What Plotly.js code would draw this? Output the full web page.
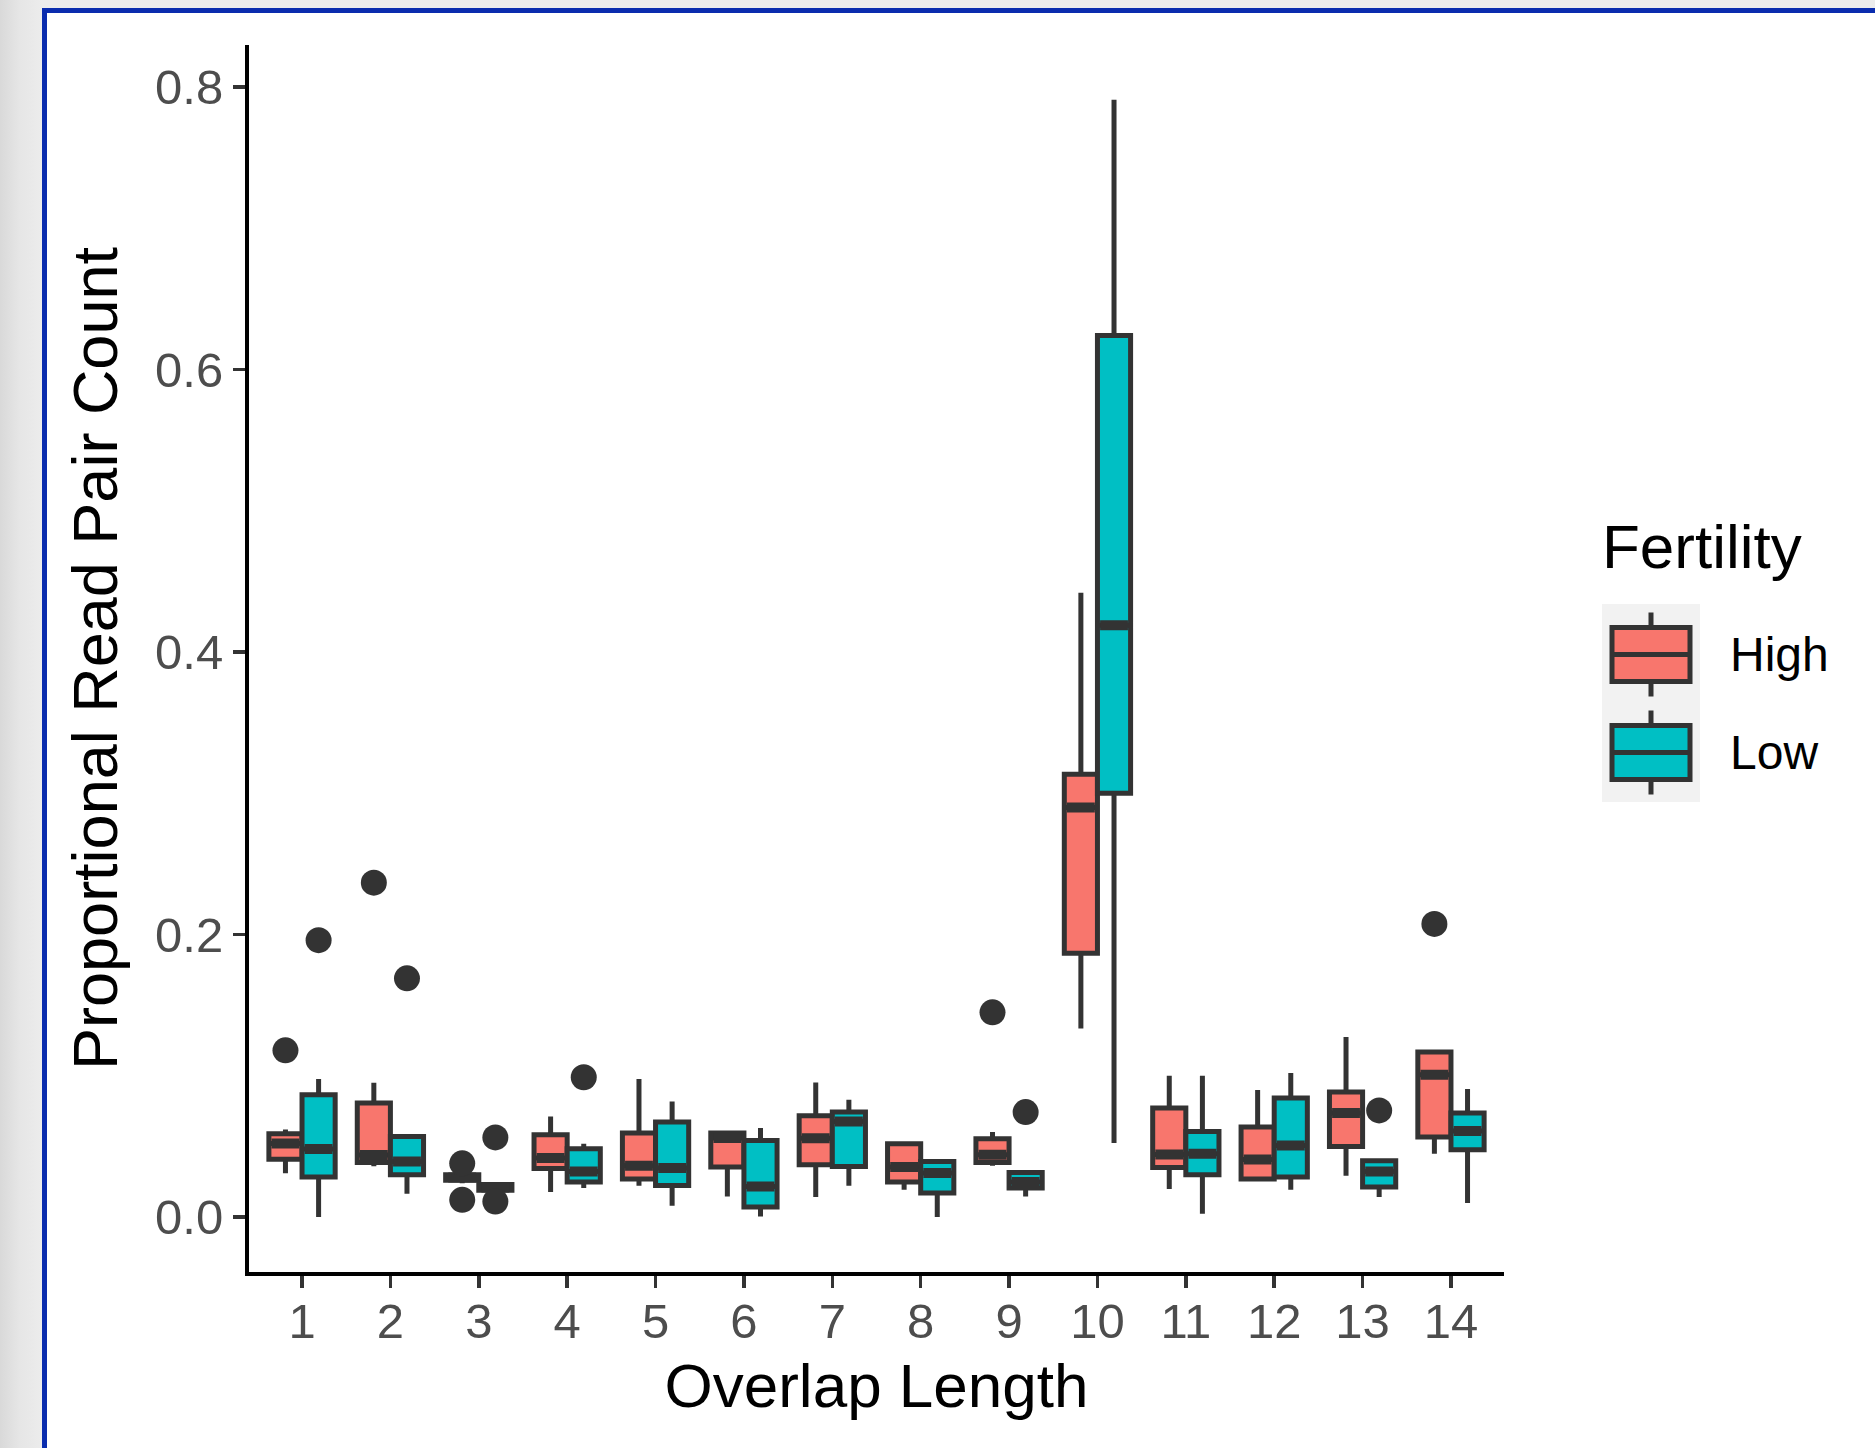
<!DOCTYPE html>
<html><head><meta charset="utf-8">
<script src="https://cdn.plot.ly/plotly-3.0.1.min.js"></script>
<style>
html,body{margin:0;padding:0;width:1875px;height:1448px;overflow:hidden;}
body{background:linear-gradient(to right,#d9d9d9 0px,#e6e6e6 20px,#ececec 42px,#ececec 100%);}
#frame{position:absolute;left:42px;top:8px;right:0;bottom:0;background:#ffffff;border-top:5px solid #0a2cae;border-left:5px solid #0a2cae;}
#chart{position:absolute;left:0;top:0;width:1875px;height:1448px;}
</style></head><body><div id="frame"></div><div id="chart"></div>
<script>
// ---------------- data ----------------
const groups = [1,2,3,4,5,6,7,8,9,10,11,12,13,14];
const seriesNames = ["High","Low"];

const highLower  = [0.031,0.036,0.024,0.0177,0.0222,0.0146,0.0142,0.0193,0.0363,0.1335,0.0198,0.0269,0.0292,0.0448];
const highQ1     = [0.041,0.0387,0.026,0.0344,0.0269,0.0354,0.037,0.0248,0.0387,0.1867,0.0351,0.0269,0.050,0.0566];
const highMedian = [0.052,0.044,0.028,0.0418,0.0363,0.056,0.0557,0.0354,0.0441,0.290,0.0443,0.0408,0.0736,0.1007];
const highQ3     = [0.059,0.0807,0.030,0.0583,0.0595,0.0595,0.0717,0.0519,0.0554,0.3135,0.0772,0.0637,0.0885,0.1168];
const highUpper  = [0.062,0.095,0.032,0.0712,0.0977,0.0595,0.0953,0.053,0.0602,0.442,0.100,0.090,0.1274,0.1168];

const lowLower  = [0.0,0.0165,0.018,0.0205,0.008,0.0004,0.0222,0.0,0.0146,0.0524,0.0023,0.0193,0.0142,0.0099];
const lowQ1     = [0.0283,0.030,0.019,0.0248,0.0224,0.0071,0.0358,0.017,0.0205,0.300,0.030,0.0283,0.0212,0.0476];
const lowMedian = [0.0481,0.0394,0.021,0.0323,0.0347,0.0217,0.0677,0.0311,0.0248,0.419,0.0448,0.0507,0.0323,0.0609];
const lowQ3     = [0.0866,0.057,0.023,0.0483,0.0672,0.0542,0.0743,0.0393,0.0316,0.624,0.0606,0.0842,0.0399,0.0736];
const lowUpper  = [0.0977,0.057,0.024,0.0519,0.0818,0.063,0.083,0.040,0.033,0.791,0.100,0.102,0.040,0.0906];

const highOutGroup = [1,2,3,3,9,14];
const highOutValue = [0.118,0.2367,0.038,0.0122,0.1449,0.2075];
const lowOutGroup  = [1,2,3,3,4,9,13];
const lowOutValue  = [0.196,0.169,0.0564,0.011,0.099,0.0743,0.0755];

const yTickVals = [0,0.2,0.4,0.6,0.8];
const yTickText = ["0.0","0.2","0.4","0.6","0.8"];
const xTickText = groups.map(String);

// ---------------- style ----------------
const COLORS = {High:"#F8766D", Low:"#00BFC4"};
const INK = "#333333";
const FONT = "Liberation Sans, Arial, Helvetica, sans-serif";
const DODGE = 0.75;            // total width of a group
const BOXW = DODGE/2;
const OFFS = {High:-DODGE/4, Low:DODGE/4};
const LW = 5, MEDLW = 10;

const stats = {
  High:{lf:highLower,q1:highQ1,med:highMedian,q3:highQ3,uf:highUpper,og:highOutGroup,ov:highOutValue},
  Low:{lf:lowLower,q1:lowQ1,med:lowMedian,q3:lowQ3,uf:lowUpper,og:lowOutGroup,ov:lowOutValue}
};

const traces = [];
seriesNames.forEach(name=>{
  const s = stats[name];
  const xs = groups.map(g=>g+OFFS[name]);
  traces.push({
    type:"box", name:name, orientation:"v", x:xs,
    q1:s.q1, median:s.med, q3:s.q3, lowerfence:s.lf, upperfence:s.uf,
    width:BOXW, fillcolor:COLORS[name], line:{color:INK,width:LW},
    whiskerwidth:0, boxpoints:false, showlegend:false, hoverinfo:"y"
  });
  // thicker median bar (ggplot fatten)
  traces.push({
    type:"box", name:name+" median", orientation:"v", x:xs,
    q1:s.med, median:s.med, q3:s.med, lowerfence:s.med, upperfence:s.med,
    width:BOXW-0.06, fillcolor:"rgba(0,0,0,0)", line:{color:INK,width:MEDLW},
    whiskerwidth:0, boxpoints:false, showlegend:false, hoverinfo:"skip"
  });
});
seriesNames.forEach(name=>{
  const s = stats[name];
  traces.push({
    type:"scatter", mode:"markers", name:name+" outliers",
    x:s.og.map(g=>g+OFFS[name]), y:s.ov,
    marker:{size:26,color:INK}, showlegend:false, hoverinfo:"y"
  });
});

// ---------------- layout ----------------
const L=249, R=1504, T=45, B=1272, W=1875, H=1448;
const px = x=>(x-L)/(R-L);
const py = y=>(B-y)/(B-T);

const shapes = [{type:"rect",xref:"paper",yref:"paper",x0:px(1602),x1:px(1700),y0:py(604),y1:py(802),
  fillcolor:"#F2F2F2",line:{width:0},layer:"below"}];
const annotations = [{xref:"paper",yref:"paper",x:px(1600),y:py(546),xanchor:"left",yanchor:"middle",
  text:"Fertility",showarrow:false,font:{family:FONT,size:62,color:"#000000"}}];
const keyCenters = {High:654.5, Low:752.5};
seriesNames.forEach(name=>{
  const c = keyCenters[name], cx = 1651;
  shapes.push({type:"line",xref:"paper",yref:"paper",x0:px(cx),x1:px(cx),y0:py(c-42),y1:py(c+42),line:{color:INK,width:LW}});
  shapes.push({type:"rect",xref:"paper",yref:"paper",x0:px(1612),x1:px(1690),y0:py(c-27),y1:py(c+27),
    fillcolor:COLORS[name],line:{color:INK,width:LW}});
  shapes.push({type:"line",xref:"paper",yref:"paper",x0:px(1612),x1:px(1690),y0:py(c),y1:py(c),line:{color:INK,width:LW}});
  annotations.push({xref:"paper",yref:"paper",x:px(1728),y:py(c),xanchor:"left",yanchor:"middle",
    text:name,showarrow:false,font:{family:FONT,size:48,color:"#000000"}});
});

const axisCommon = {
  showline:true, linecolor:"#000000", linewidth:4, mirror:false,
  ticks:"outside", ticklen:12, tickwidth:3.5, tickcolor:INK,
  tickfont:{family:FONT,size:49,color:"#4D4D4D"},
  showgrid:false, zeroline:false, automargin:false, fixedrange:true
};

const layout = {
  width:W, height:H,
  margin:{l:L,r:W-R,t:T,b:H-B,pad:0},
  paper_bgcolor:"rgba(0,0,0,0)", plot_bgcolor:"#ffffff",
  boxmode:"overlay", showlegend:false,
  font:{family:FONT},
  xaxis:Object.assign({}, axisCommon, {
    range:[0.4,14.6], tickmode:"array", tickvals:groups, ticktext:xTickText,
    ticklabelstandoff:-9,
    title:{text:"Overlap Length", font:{family:FONT,size:62,color:"#000000"}, standoff:18}
  }),
  yaxis:Object.assign({}, axisCommon, {
    range:[-0.0389,0.8297], tickmode:"array", tickvals:yTickVals, ticktext:yTickText,
    title:{text:"Proportional Read Pair Count", font:{family:FONT,size:63,color:"#000000"}, standoff:18}
  }),
  shapes:shapes, annotations:annotations
};

Plotly.newPlot("chart", traces, layout, {displayModeBar:false, staticPlot:true});
</script></body></html>
